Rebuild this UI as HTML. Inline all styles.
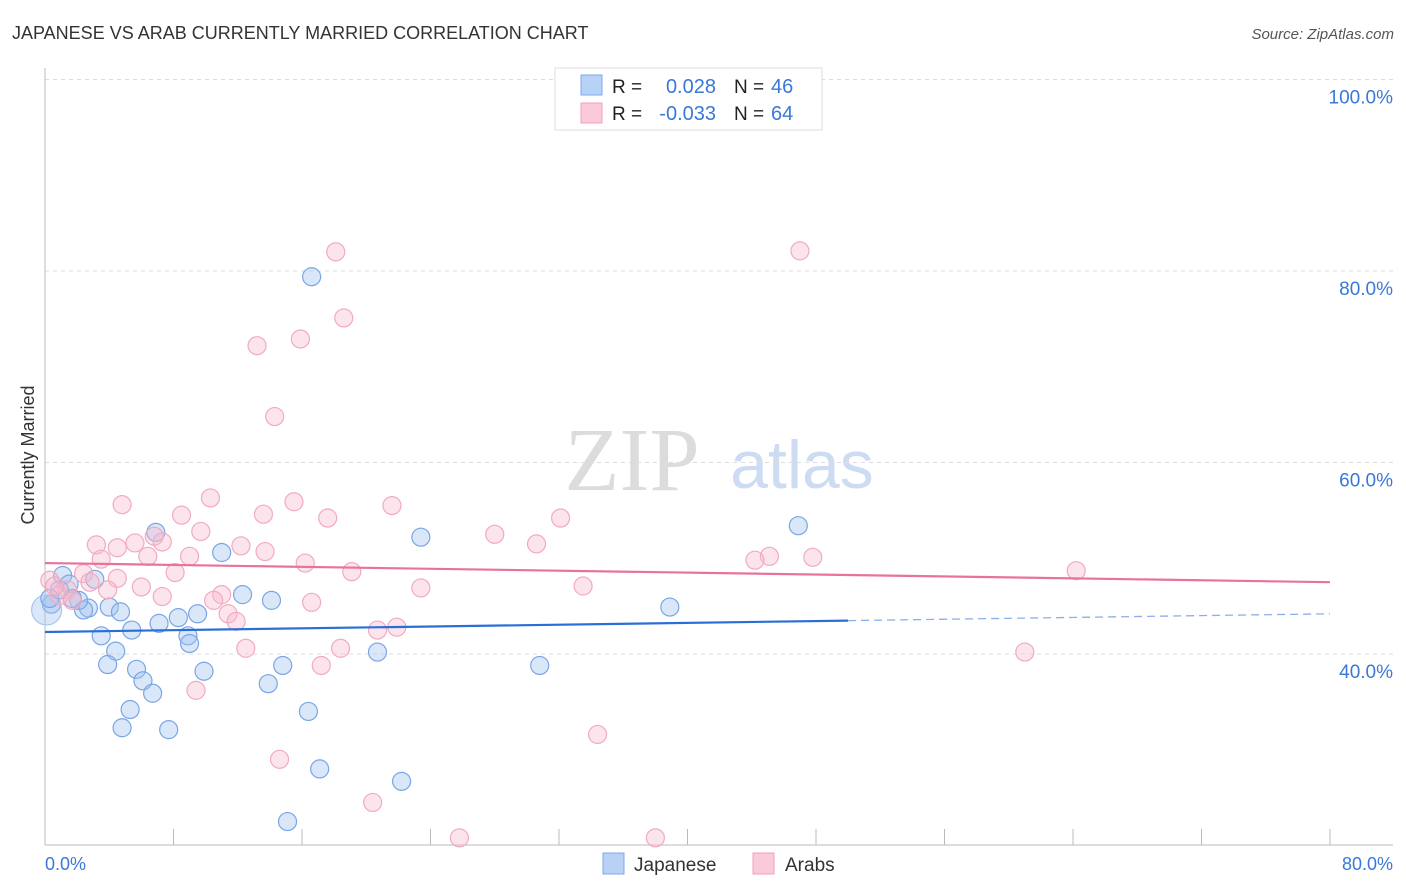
<!DOCTYPE html>
<html><head><meta charset="utf-8"><style>
body{margin:0;background:#fff;font-family:"Liberation Sans",sans-serif;}
svg{display:block}
</style></head><body>
<svg id="chart" width="1406" height="892" xmlns="http://www.w3.org/2000/svg">
<text x="12" y="39" font-size="18" fill="#333">JAPANESE VS ARAB CURRENTLY MARRIED CORRELATION CHART</text>
<text x="1394" y="39" font-size="15" fill="#555" font-style="italic" text-anchor="end">Source: ZipAtlas.com</text>
<text x="632" y="490" font-size="90" font-family="Liberation Serif,serif" fill="#dcdcdc" text-anchor="middle">ZIP</text>
<text x="802" y="488" font-size="68" fill="#cddcf2" text-anchor="middle">atlas</text>
<g id="grid"></g>
<g id="axes"></g>
<g id="marks"></g>
<text transform="translate(34,455) rotate(-90)" font-size="18" fill="#333" text-anchor="middle">Currently Married</text>
<text x="45" y="870" font-size="18" fill="#3a78d8">0.0%</text>
<text x="1393" y="870" font-size="18" fill="#3a78d8" text-anchor="end">80.0%</text>
<g>
<rect x="555" y="68" width="267" height="62" fill="#fff" stroke="#ddd"/>
<rect x="581" y="75" width="21" height="20" fill="#b8d2f5" stroke="#7eaaea"/>
<rect x="581" y="103" width="21" height="20" fill="#fbcada" stroke="#f0a0b8"/>
<text x="612" y="93" font-size="19" fill="#222">R =</text>
<text x="716" y="93" font-size="20" fill="#3a78d8" text-anchor="end">0.028</text>
<text x="734" y="93" font-size="19" fill="#222">N =</text>
<text x="771" y="93" font-size="20" fill="#3a78d8">46</text>
<text x="612" y="120" font-size="19" fill="#222">R =</text>
<text x="716" y="120" font-size="20" fill="#3a78d8" text-anchor="end">-0.033</text>
<text x="734" y="120" font-size="19" fill="#222">N =</text>
<text x="771" y="120" font-size="20" fill="#3a78d8">64</text>
</g>
<g>
<rect x="603" y="853" width="21" height="21" fill="#b8d2f5" stroke="#7eaaea"/>
<text x="634" y="871" font-size="19" fill="#333">Japanese</text>
<rect x="753" y="853" width="21" height="21" fill="#fbcada" stroke="#f0a0b8"/>
<text x="785" y="871" font-size="19" fill="#333">Arabs</text>
</g>
</svg>
<script>
const yTicks=[40,60,80,100];
const xTicks=[0,8,16,24,32,40,48,56,64,72,80];
const japX=[16.6,6.9,23.4,46.9,11.0,3.1,1.1,1.5,4.0,4.7,2.7,2.4,0.4,2.1,12.3,14.1,9.5,8.3,7.1,5.4,8.9,3.5,9.0,20.7,4.4,38.9,3.9,5.7,14.8,9.9,6.1,13.9,6.7,5.3,16.4,4.8,7.7,30.8,17.1,22.2,15.1,0.1,1.7,0.9,0.3];
const japY=[79.4,52.7,52.2,53.4,50.6,47.8,48.2,47.3,44.9,44.4,44.8,44.6,45.2,45.6,46.2,45.6,44.2,43.8,43.2,42.5,41.9,41.9,41.1,40.2,40.3,44.9,38.9,38.4,38.8,38.2,37.2,36.9,35.9,34.2,34.0,32.3,32.1,38.8,28.0,26.7,22.5,44.6,45.8,46.7,45.8];
const arabX=[18.1,47.0,18.6,13.2,15.9,14.3,4.8,10.3,15.5,21.6,8.5,13.6,17.6,32.1,9.7,6.8,28.0,3.2,12.2,30.6,5.6,7.3,4.5,13.7,9.0,6.4,3.5,45.1,47.8,44.2,16.2,8.1,19.1,64.2,2.4,4.5,0.3,6.0,3.9,23.4,33.5,1.4,7.3,11.0,10.5,16.6,0.9,1.7,11.4,11.9,20.7,21.9,12.5,18.4,17.2,61.0,9.4,34.4,14.6,20.4,25.8,38.0,0.6,2.8];
const arabY=[82.0,82.1,75.1,72.2,72.9,64.8,55.6,56.3,55.9,55.5,54.5,54.6,54.2,54.2,52.8,52.3,52.5,51.4,51.3,51.5,51.6,51.7,51.1,50.7,50.2,50.2,49.9,50.2,50.1,49.8,49.5,48.5,48.6,48.7,48.4,47.9,47.7,47.0,46.7,46.9,47.1,46.7,46.0,46.2,45.6,45.4,46.1,45.6,44.2,43.4,42.5,42.8,40.6,40.6,38.8,40.2,36.2,31.6,29.0,24.5,20.8,20.8,47.1,47.5];
const japTrend=[42.3,44.2];
const arabTrend=[49.5,47.5];
const NS='http://www.w3.org/2000/svg';
const X=v=>45+v*1285/80;
const Y=v=>79.5+(100-v)*9.575;
function mk(tag,attrs,parent){const e=document.createElementNS(NS,tag);for(const k in attrs)e.setAttribute(k,attrs[k]);document.getElementById(parent).appendChild(e);return e;}
yTicks.forEach(t=>{
 const l=mk('line',{x1:45,x2:1393,y1:Y(t),y2:Y(t),stroke:'#ddd','stroke-dasharray':'4,4'},'grid');
 
 
 const tx=mk('text',{x:1393,y:Y(t)+24,'font-size':19,fill:'#3a78d8','text-anchor':'end'},'grid');
 tx.textContent=t.toFixed(1)+'%';
 
 
});
let a=mk('line',{x1:45,x2:45,y1:68,y2:845,stroke:'#bbb'},'axes');


a=mk('line',{x1:45,x2:1393,y1:845,y2:845,stroke:'#bbb'},'axes');


xTicks.forEach(t=>{
 const l=mk('line',{x1:X(t),x2:X(t),y1:829,y2:845,stroke:'#bbb'},'axes');
 
 
});
japX.forEach((x,i)=>{
 const c=mk('circle',{cx:X(x),cy:Y(japY[i]),r:(i==41?15:9),fill:'rgba(160,195,240,0.4)',stroke:(i==41?'#a9c6ee':'#78a6e6'),'stroke-width':1.2},'marks');
 
 
});
arabX.forEach((x,i)=>{
 const c=mk('circle',{cx:X(x),cy:Y(arabY[i]),r:9,fill:'rgba(248,185,205,0.38)',stroke:'#f2aac0','stroke-width':1.2},'marks');
 
 
});
const jy=x=>japTrend[0]+(japTrend[1]-japTrend[0])*x/80;
let t=mk('line',{x1:X(0),y1:Y(jy(0)),x2:X(50),y2:Y(jy(50)),stroke:'#2a6fd6','stroke-width':2.2},'marks');


t=mk('line',{x1:X(50),y1:Y(jy(50)),x2:X(80),y2:Y(jy(80)),stroke:'#8ab0e6','stroke-width':1.3,'stroke-dasharray':'8,5'},'marks');


t=mk('line',{x1:X(0),y1:Y(arabTrend[0]),x2:X(80),y2:Y(arabTrend[1]),stroke:'#e8739a','stroke-width':2.2},'marks');


</script>
</body></html>
